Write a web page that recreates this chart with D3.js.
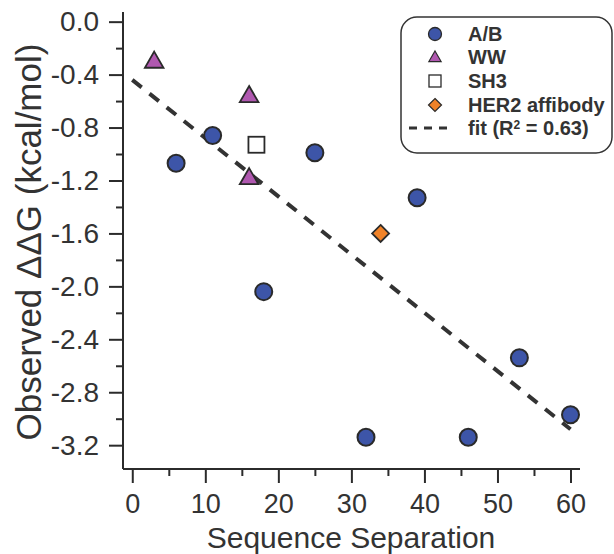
<!DOCTYPE html>
<html><head><meta charset="utf-8">
<script src="https://cdn.jsdelivr.net/npm/d3@7"></script>
<style>body{margin:0;background:#fff}svg{display:block}text{font-family:"Liberation Sans",Arial,Helvetica,sans-serif}</style>
</head><body><svg id="c" width="614" height="554"></svg>
<script>
// data
const abX = [6, 11, 25, 18, 39, 32, 46, 53, 60];
const abY = [-1.07, -0.86, -0.99, -2.04, -1.33, -3.14, -3.14, -2.54, -2.97];
const wwX = [3, 16, 16];
const wwY = [-0.30, -0.56, -1.18];
const sh3X = [17];
const sh3Y = [-0.93];
const herX = [34];
const herY = [-1.60];
const fitIntercept = -0.44;
const fitSlope = -0.044;
const fitRange = [0, 60];
const xTicks = [0, 10, 20, 30, 40, 50, 60];
const yTicks = [0.0, -0.4, -0.8, -1.2, -1.6, -2.0, -2.4, -2.8, -3.2];
const legendLabels = ["A/B", "WW", "SH3", "HER2 affibody"];

const svg = d3.select("#c");
const x = d3.scaleLinear().domain([-1.27, 61.3]).range([123, 580]);
const y = d3.scaleLinear().domain([0.073, -3.38]).range([12, 469]);
const axisCol = "#2b2b2b", txtCol = "#333";

// x axis
const gxMinor = svg.append("g").attr("transform", "translate(0,469)")
  .call(d3.axisBottom(x).tickValues(d3.range(5, 61, 10)).tickSize(7).tickFormat(""));
const gx = svg.append("g").attr("transform", "translate(0,469)")
  .call(d3.axisBottom(x).tickValues(xTicks).tickSize(14).tickPadding(11).tickFormat(d3.format("d")));
gxMinor.select(".domain").remove();
gx.select(".domain").attr("d", "M123,0H580");
// y axis
const gyMinor = svg.append("g").attr("transform", "translate(123,0)")
  .call(d3.axisLeft(y).tickValues(d3.range(0, 8).map(i => -0.2 - i * 0.4)).tickSize(7).tickFormat(""));
const gy = svg.append("g").attr("transform", "translate(123,0)")
  .call(d3.axisLeft(y).tickValues(yTicks).tickSize(14).tickPadding(10).tickFormat(d => d3.format(".1f")(d).replace("−", "-")));
gyMinor.select(".domain").remove();
gy.select(".domain").attr("d", "M0,12V469");
svg.selectAll(".domain").attr("stroke", axisCol).attr("stroke-width", 2);
svg.selectAll(".tick line").attr("stroke", axisCol).attr("stroke-width", 2);
svg.selectAll(".tick text").attr("fill", txtCol).attr("font-family", "Liberation Sans, Arial, sans-serif");
gx.selectAll(".tick text").attr("font-size", 27);
gy.selectAll(".tick text").attr("font-size", 28);

// titles
svg.append("text").attr("x", 351).attr("y", 548).attr("text-anchor", "middle")
  .attr("font-size", 30).attr("fill", txtCol).text("Sequence Separation");
svg.append("text").attr("transform", "translate(41,242) rotate(-90)").attr("text-anchor", "middle")
  .attr("font-size", 35).attr("fill", txtCol).text("Observed ΔΔG (kcal/mol)");

// fit line
svg.append("line")
  .attr("x1", x(fitRange[0])).attr("y1", y(fitIntercept + fitSlope * fitRange[0]))
  .attr("x2", x(fitRange[1])).attr("y2", y(fitIntercept + fitSlope * fitRange[1]))
  .attr("stroke", "#333").attr("stroke-width", 4).attr("stroke-dasharray", "12,10");

const edge = "#2a2a2a";
const blue = "#3d55a8", purple = "#b058b0", orange = "#f08228";
function tri(s) { return d3.symbol().type(d3.symbolTriangle).size(s)(); }
// series
svg.append("g").selectAll("circle").data(abX).join("circle")
  .attr("cx", (d) => x(d)).attr("cy", (d, i) => y(abY[i])).attr("r", 8.5)
  .attr("fill", blue).attr("stroke", edge).attr("stroke-width", 2);
svg.append("g").selectAll("path").data(wwX).join("path")
  .attr("d", tri(150)).attr("transform", (d, i) => `translate(${x(d)},${y(wwY[i]) + 1})`)
  .attr("fill", purple).attr("stroke", edge).attr("stroke-width", 1.8);
svg.append("g").selectAll("rect").data(sh3X).join("rect")
  .attr("x", d => x(d) - 8).attr("y", (d, i) => y(sh3Y[i]) - 8).attr("width", 16).attr("height", 16)
  .attr("fill", "#fff").attr("stroke", edge).attr("stroke-width", 1.8);
svg.append("g").selectAll("path").data(herX).join("path")
  .attr("d", "M0,-8.5L8.5,0L0,8.5L-8.5,0Z").attr("transform", (d, i) => `translate(${x(d)},${y(herY[i])})`)
  .attr("fill", orange).attr("stroke", edge).attr("stroke-width", 1.8);

// legend
const lg = svg.append("g");
lg.append("rect").attr("x", 401).attr("y", 17).attr("width", 211).attr("height", 136).attr("rx", 16)
  .attr("fill", "#fff").attr("stroke", "#333").attr("stroke-width", 1.5);
const rowY = [34, 57, 81, 105, 128];
const mx = 435, tx = 468;
lg.append("circle").attr("cx", mx).attr("cy", rowY[0]).attr("r", 6.5).attr("fill", blue).attr("stroke", edge).attr("stroke-width", 1.3);
lg.append("path").attr("d", tri(65)).attr("transform", `translate(${mx},${rowY[1] + 1})`).attr("fill", purple).attr("stroke", edge).attr("stroke-width", 1.2);
lg.append("rect").attr("x", mx - 6).attr("y", rowY[2] - 6).attr("width", 12).attr("height", 12).attr("fill", "#fff").attr("stroke", edge).attr("stroke-width", 1.3);
lg.append("path").attr("d", "M0,-6.5L6.5,0L0,6.5L-6.5,0Z").attr("transform", `translate(${mx},${rowY[3]})`).attr("fill", orange).attr("stroke", edge).attr("stroke-width", 1.2);
lg.append("line").attr("x1", 409).attr("x2", 448).attr("y1", rowY[4]).attr("y2", rowY[4])
  .attr("stroke", "#333").attr("stroke-width", 3).attr("stroke-dasharray", "8,7");
legendLabels.forEach((t, i) => {
  lg.append("text").attr("x", tx).attr("y", rowY[i]).attr("dy", "0.36em").attr("font-size", 20)
    .attr("font-weight", "bold").attr("fill", txtCol).text(t);
});
const ft = lg.append("text").attr("x", tx).attr("y", rowY[4]).attr("dy", "0.36em").attr("font-size", 20)
  .attr("font-weight", "bold").attr("fill", txtCol);
ft.append("tspan").text("fit (R");
ft.append("tspan").attr("font-size", 12).attr("dy", "-0.55em").text("2");
ft.append("tspan").attr("dy", "0.33em").text(" = 0.63)");
</script></body></html>
